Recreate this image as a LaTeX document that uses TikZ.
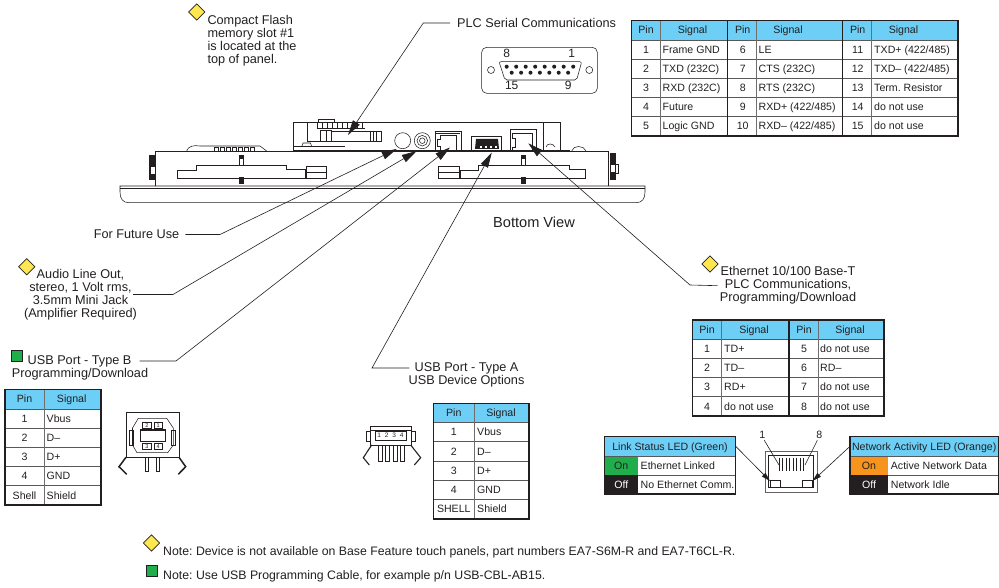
\documentclass[tikz,border=0pt]{standalone}
\usepackage{fontspec}
\setmainfont{Liberation Sans}
\usetikzlibrary{arrows.meta}
\usetikzlibrary{shapes.geometric}
\definecolor{inkc}{HTML}{231F20}
\definecolor{hdrc}{HTML}{6DCFF6}
\definecolor{yellowc}{HTML}{FFE84F}
\definecolor{greenc}{HTML}{1FAE4B}
\definecolor{orangec}{HTML}{F7941D}
\newcommand{\rsfs}{(422/485)}
\AtBeginDocument{\frenchspacing}
\tikzset{
  every node/.style={text=inkc, inner sep=0pt},
  lbl/.style={font=\fontsize{12.7}{13}\selectfont, align=center},
  tbl/.style={font=\fontsize{10.6}{12}\selectfont, text height=7.4pt, text depth=0pt},
  pincell/.style={tbl},
  sigcell/.style={tbl, anchor=west},
  hdrline/.style={draw=inkc, line width=1.3pt},
  rowline/.style={draw=inkc!75, line width=0.8pt},
  colline/.style={draw=inkc!65, line width=1pt},
  ptr/.style={draw=inkc, line width=0.6pt},
  ptrarrow/.style={ptr, -{Triangle[length=15pt,width=8pt]}},
  smallarrow/.style={ptr, -{Triangle[length=9pt,width=5pt]}},
  part/.style={draw=inkc, line width=0.55pt},
  heavy/.style={draw=inkc, line width=1.5pt},
  notediamond/.style={diamond, draw=inkc, fill=yellowc, line width=0.7pt, minimum width=16.5pt, minimum height=16.5pt},
  notesquare/.style={rectangle, draw=inkc, fill=greenc, line width=0.5pt, minimum size=11pt}
}
\begin{document}
\begin{tikzpicture}[x=1pt,y=-1pt]
\useasboundingbox (0,0) rectangle (999,588);

% panel seen from below
\draw[part] (120,186) -- (645,186) -- (645,192) .. controls (645,199) and (642,202.7) .. (636,202.7) -- (129,202.7) .. controls (123,202.7) and (120,199) .. (120,192) -- cycle;
\draw[part] (120,188) -- (645,188);
\draw[part] (155,186) -- (155,151) -- (608,151) -- (608,186);
\draw[heavy] (293,151) -- (570,151);
\draw[part] (293,151) -- (293,122.3) -- (560,122.3) -- (560,151);
\draw[part] (543,122.3) -- (543,151);
% bumps, plates and screws
\draw[part] (186.7,151) .. controls (188,146) and (194,145) .. (200,146) -- (260,146) -- (266.7,151);
\foreach \x in {214,220,...,250} \draw[part] (\x,147.5) rectangle ++(4,3.5);
\draw[part] (571.7,151) .. controls (573,145) and (584,145) .. (586,151);
\draw[part] (177,178) -- (177,170) -- (196.7,170) -- (196.7,165) -- (286.7,165) -- (286.7,169.3) -- (305,169.3) -- (305,178) -- cycle;
\draw[part] (306.7,166) rectangle (326.7,178.7); \draw[part] (306.7,172.3) -- (326.7,172.3);
\draw[part] (460,178) -- (460,170) -- (478,170) -- (478,165) -- (569,165) -- (569,169.3) -- (585,169.3) -- (585,178) -- cycle;
\draw[part] (438.3,166) rectangle (459.3,178.7); \draw[part] (438.3,172.3) -- (459.3,172.3);
\foreach \x in {241.7,523.3} {
  \fill[inkc] (\x-2.5,155) rectangle (\x+2.5,158);
  \draw[part] (\x-2,158) rectangle (\x+2,165);
  \fill[inkc] (\x-2.5,177) rectangle (\x+2.5,184);
}
\fill[inkc] (149,155) rectangle (155,180); \fill[white] (150.5,167) rectangle (155,174);
\draw[part] (149,166) rectangle (155,175);
\fill[inkc] (610,153) rectangle (616,180); \fill[white] (610,165) rectangle (614.5,172);
\draw[part] (610,164) rectangle (618,173);
% compact flash slot
\draw[part] (307.7,122.3) -- (307.7,141) -- (381,141) -- (381,131.7) -- (331.7,131.7);
\draw[part] (318.3,122.3) -- (318.3,119.3) -- (334.3,119.3) -- (334.3,122.3);
\draw[part] (316.7,128) -- (365,128);
\foreach \x in {317,322,...,362} \draw[part] (\x,123) -- (\x,128);
\draw[part] (320,130) rectangle (331.7,141); \draw[part] (326,130) -- (326,141);
\foreach \x in {370,373,376} \draw[part] (\x,131.7) -- (\x,141);
\draw[part] (301.7,146.7) -- (303,143) -- (310.5,143) -- (311.7,146.7);
\draw[part] (293,146.7) -- (345,146.7);
% round openings
\draw[part] (402.7,140.7) circle (8);
\draw[part] (422.3,140.7) circle (8);
\draw[part] (422.3,140.7) circle (5.3);
\draw[part] (422.3,140.7) circle (2.8);
% ports
\draw[part] (435,131.7) rectangle (461,151);
\draw[part] (436,133) -- (460,133);
\draw[part] (440,135) -- (456,135) -- (456,150) -- (440,150) -- (440,146) -- (437.5,146) -- (437.5,139) -- (440,139) -- cycle;
\draw[part] (471.7,136.7) rectangle (501.7,151);
\fill[inkc] (476,139) -- (498,139) -- (499,149) -- (475,149) -- cycle;
\foreach \x in {480,485,490,495} \fill[white] (\x,146) rectangle ++(1.5,2);
\draw[part] (510,129) rectangle (536,151);
\draw[part] (512.5,133) -- (532,133) -- (532,150);
\draw[part] (512.5,133) -- (512.5,138) -- (515,138) -- (515,147) -- (512.5,147) -- (512.5,150);
\draw[part] (546,147) .. controls (547,143) and (553,143) .. (555,147);

\node[font=\fontsize{14.6}{16}\selectfont] (bottomview) at (534,222) {Bottom View};

% callouts
\node[lbl, align=left, anchor=north west] (lblflash) at (207.3,15.5) {Compact Flash\\memory slot \#1\\is located at the\\top of panel.};
\node[notediamond] (dflash) at (196.7,12) {};
\node[lbl, anchor=west] (lblplc) at (457,23) {PLC Serial Communications};
\coordinate (plcelbow) at (423.3,23); \coordinate (plctip) at (348,135);
\draw[ptrarrow] ([xshift=-7pt]lblplc.west) -- (plcelbow) -- (plctip);
\node[lbl] (lblfuture) at (136.5,234.5) {For Future Use};
\coordinate (futureelbow) at (220,234.5); \coordinate (futuretip) at (396.7,149);
\draw[ptrarrow] ([xshift=6pt]lblfuture.east) -- (futureelbow) -- (futuretip);
\node[lbl] (lblaudio) at (80.5,294.5) {Audio Line Out,\\stereo, 1 Volt rms,\\3.5mm Mini Jack\\(Amplifier Required)};
\node[notediamond] (daudio) at (26.7,266.7) {};
\coordinate (audioelbow) at (173,294.5); \coordinate (audiotip) at (416.7,151);
\draw[ptrarrow] ([xshift=-4pt]lblaudio.east) -- (audioelbow) -- (audiotip);
\node[lbl] (lblusbb) at (79.5,361) {USB Port - Type B};
\node[lbl] (lblusbbsub) at (80,374.5) {Programming/Download};
\node[notesquare] (susbb) at (16.3,355.5) {};
\coordinate (usbbelbow) at (176,361); \coordinate (usbbtip) at (450,147.5);
\draw[ptrarrow] ([xshift=8pt]lblusbb.east) -- (usbbelbow) -- (usbbtip);
\node[lbl] (lblusba) at (466.5,368) {USB Port - Type A};
\node[lbl] (lblusbasub) at (466.5,381) {USB Device Options};
\coordinate (usbaelbow) at (372,368); \coordinate (usbatip) at (491.7,152.7);
\draw[ptrarrow] ([xshift=-5pt]lblusba.west) -- (usbaelbow) -- (usbatip);
\node[lbl] (lbleth) at (788,285.7) {Ethernet 10/100 Base-T\\PLC Communications,\\Programming/Download};
\node[notediamond] (deth) at (710,264) {};
\coordinate (ethelbow) at (690,285); \coordinate (ethtip) at (528.3,143.3);
\draw[ptrarrow] ([xshift=-2pt]lbleth.west) -- (ethelbow) -- (ethtip);

% serial connector
\draw[part, rounded corners=5pt] (481.7,47.3) rectangle (597.3,93.3);
\draw[part, rounded corners=2pt] (499,61.7) -- (581.7,61.7) -- (576.7,80) -- (505,80) -- cycle;
\draw[part] (491,70) circle (3.5);
\draw[part] (589.3,70) circle (3.5);
\foreach \i in {0,...,7} \fill[inkc] (506.7+\i*9.5,66.7) circle (2);
\foreach \i in {0,...,6} \fill[inkc] (511.7+\i*9.4,72.7) circle (2);
\node[font=\fontsize{12}{13}\selectfont] (db8) at (506.7,53) {8};
\node[font=\fontsize{12}{13}\selectfont] (db1) at (571.7,53) {1};
\node[font=\fontsize{12}{13}\selectfont] (db15) at (511.7,85.5) {15};
\node[font=\fontsize{12}{13}\selectfont] (db9) at (568.3,85.5) {9};

% serial pinout
\fill[hdrc] (631.5,20.7) rectangle (958,40);
\foreach \y in {40,59.3,78.3,97.7,116.7} \draw[rowline] (631.5,\y) -- (958,\y);
\foreach \x in {660,756.7,871.7} \draw[colline] (\x,20.7) -- (\x,136);
\foreach \x in {727.7,842.7} \draw[hdrline] (\x,20.7) -- (\x,136);
\draw[hdrline] (631.5,20.7) rectangle (958,136);
\foreach \x/\z in {646/a,742.7/b,857.7/c} {
  \node[pincell] (hp\z) at (\x,30.3) {Pin};
}
\node[pincell] (hsa) at (692.5,30.3) {Signal};
\node[pincell] (hsb) at (788,30.3) {Signal};
\node[pincell] (hsc) at (903.5,30.3) {Signal};
\foreach \y/\pa/\sa/\pb/\sb/\pc/\sc in {
  49.7/1/Frame GND/6/LE/11/TXD+ \rsfs,
  68.8/2/TXD (232C)/7/CTS (232C)/12/TXD– \rsfs,
  88/3/RXD (232C)/8/RTS (232C)/13/Term. Resistor,
  107.2/4/Future/9/RXD+ \rsfs/14/do not use,
  126.3/5/Logic GND/10/RXD– \rsfs/15/do not use} {
  \node[pincell] (sp\pa) at (646,\y) {\pa};
  \node[sigcell] (ss\pa) at (662.5,\y) {\sa};
  \node[pincell] (sp\pb) at (742.7,\y) {\pb};
  \node[sigcell] (ss\pb) at (758.5,\y) {\sb};
  \node[pincell] (sp\pc) at (857.7,\y) {\pc};
  \node[sigcell] (ss\pc) at (874,\y) {\sc};
}

% ethernet pinout
\fill[hdrc] (692.3,320) rectangle (884,339);
\foreach \y in {339,358.3,377.7,396.7} \draw[rowline] (692.3,\y) -- (884,\y);
\foreach \x in {721.7,818.3} \draw[colline] (\x,320) -- (\x,416);
\draw[hdrline] (789,320) -- (789,416);
\draw[hdrline] (692.3,320) rectangle (884,416);
\node[pincell] (hep1) at (707,329.5) {Pin};
\node[pincell] (hes1) at (754,329.5) {Signal};
\node[pincell] (hep2) at (804,329.5) {Pin};
\node[pincell] (hes2) at (850,329.5) {Signal};
\foreach \y/\pa/\sa/\pb/\sb in {
  348.7/1/TD+/5/do not use,
  368/2/TD–/6/RD–,
  387.2/3/RD+/7/do not use,
  406.3/4/do not use/8/do not use} {
  \node[pincell] (ep\pa) at (707,\y) {\pa};
  \node[sigcell] (es\pa) at (724,\y) {\sa};
  \node[pincell] (ep\pb) at (804,\y) {\pb};
  \node[sigcell] (es\pb) at (820,\y) {\sb};
}

% usb b pinout
\fill[hdrc] (5,389.3) rectangle (101,409);
\foreach \y in {409,428.3,447.3,466.7,485.7} \draw[rowline] (5,\y) -- (101,\y);
\draw[colline] (44,389.3) -- (44,505);
\draw[hdrline] (5,389.3) rectangle (101,505);
\node[pincell] (hbp) at (24.5,399) {Pin};
\node[pincell] (hbs) at (71.7,399) {Signal};
\foreach \y/\p/\s in {418.7/1/Vbus,437.8/2/D–,457/3/D+,476.2/4/GND,495.3/Shell/Shield} {
  \node[pincell] (bp\p) at (24.5,\y) {\p};
  \node[sigcell] (bs\p) at (46.5,\y) {\s};
}

% usb a pinout
\fill[hdrc] (433.3,403.3) rectangle (529,422.7);
\foreach \y in {422.7,441.7,461,480,499} \draw[rowline] (433.3,\y) -- (529,\y);
\draw[colline] (474.3,403.3) -- (474.3,519);
\draw[hdrline] (433.3,403.3) rectangle (529,519);
\node[pincell] (hap) at (453.8,413) {Pin};
\node[pincell] (has) at (501,413) {Signal};
\foreach \y/\p/\s in {432.2/1/Vbus,451.3/2/D–,470.5/3/D+,489.5/4/GND,509/SHELL/Shield} {
  \node[pincell] (ap\p) at (453.8,\y) {\p};
  \node[sigcell] (as\p) at (477,\y) {\s};
}

% led tables
\fill[hdrc] (604.3,436.7) rectangle (735.7,456);
\fill[greenc] (604.3,456) rectangle (638.3,475);
\fill[inkc] (604.3,475) rectangle (638.3,494);
\draw[rowline] (604.3,456) -- (735.7,456); \draw[rowline] (638.3,475) -- (735.7,475);
\draw[hdrline] (604.3,436.7) rectangle (735.7,494);
\node[tbl] (linkhdr) at (670,446.3) {Link Status LED (Green)};
\node[tbl] (linkon) at (621.3,465.5) {On};
\node[tbl, text=white] (linkoff) at (621.3,484.5) {Off};
\node[sigcell] (linkons) at (640.5,465.5) {Ethernet Linked};
\node[sigcell] (linkoffs) at (640.5,484.5) {No Ethernet Comm.};
\fill[hdrc] (850,436.7) rectangle (998.3,456);
\fill[orangec] (850,456) rectangle (888.3,475);
\fill[inkc] (850,475) rectangle (888.3,494);
\draw[rowline] (850,456) -- (998.3,456); \draw[rowline] (888.3,475) -- (998.3,475);
\draw[hdrline] (850,436.7) rectangle (998.3,494);
\node[tbl] (nethdr) at (924.2,446.3) {Network Activity LED (Orange)};
\node[tbl] (neton) at (869,465.5) {On};
\node[tbl, text=white] (netoff) at (869,484.5) {Off};
\node[sigcell] (netons) at (890.7,465.5) {Active Network Data};
\node[sigcell] (netoffs) at (890.7,484.5) {Network Idle};

% rj45 jack
\draw[part, line width=1pt, draw=inkc!70] (765,451.7) rectangle (817.3,492.3);
\draw[part, line width=1pt] (768.3,455.7) -- (813,455.7) -- (813,487.7) -- (768.3,487.7) -- cycle;
\draw[part] (770,480) rectangle (780,487.7);
\draw[part] (802.7,480) rectangle (812.7,487.7);
\foreach \x in {779.3,782.8,...,804} \draw[part, line width=1pt] (\x,457.7) -- (\x,470.7);
\node[tbl] (pinone) at (762.3,434.3) {1};
\node[tbl] (pineight) at (819.3,434.3) {8};
\coordinate (onetip) at (779,465); \coordinate (eighttip) at (805,465);
\coordinate (linkled) at (770,481); \coordinate (netled) at (812.5,481);
\draw[ptr] (pinone) ++(2,6) -- (onetip);
\draw[ptr] (pineight) ++(-2,6) -- (eighttip);
\draw[smallarrow] (linkhdr.east -| 735.7,447) -- (linkled);
\draw[smallarrow] (nethdr.west -| 850,447) -- (netled);

% usb b socket
\draw[part] (126,412.7) rectangle (179,457.3);
\draw[part] (138.3,418.3) -- (166.7,418.3) -- (173.3,428) -- (173.3,445) -- (167.7,452.7) -- (137,452.7) -- (132.5,445) -- (132.5,428) -- cycle;
\draw[heavy] (140.7,430) rectangle (165.7,441.7);
\draw[part] (129.3,430) rectangle (133.3,445);
\draw[part] (171,430) rectangle (175,445);
\foreach \x/\y/\n in {142.7/422.7/2,154/422.7/1,142.7/443.3/3,154/443.3/4} {
  \draw[part] (\x,\y) rectangle ++(8.2,6);
  \node[font=\fontsize{5.5}{6}\selectfont] (usbb\n) at (\x+4.1,\y+3) {\n};
}
\foreach \x in {145,156} \draw[part] (\x,457.3) -- (\x,471.7) -- (\x+3.7,471.7) -- (\x+3.7,457.3);
\draw[heavy] (126,457.3) -- (119,466.7) -- (126.7,474.3);
\draw[heavy] (179,457.3) -- (185.7,466.7) -- (178.3,474.3);

% usb a socket
\draw[part] (370.7,426.7) rectangle (411.7,445);
\draw[part] (370.7,430) -- (411.7,430);
\draw[part] (366.7,431) rectangle (370.7,441.7);
\draw[part] (411.7,431) rectangle (415.7,441.7);
\draw[part] (375,431) rectangle (406.7,440);
\foreach \x/\n in {379.3/1,386.7/2,394.3/3,401.7/4} {
  \node[font=\fontsize{6.5}{7}\selectfont] (usba\n) at (\x,435.5) {\n};
  \draw[part] (\x-1,445) -- (\x-1,461) -- (\x+2.5,461) -- (\x+2.5,445);
}
\draw[heavy, line width=1.1pt] (371.7,445) -- (363.3,457.7) -- (369.3,465);
\draw[heavy, line width=1.1pt] (410.7,445) -- (420.7,457.7) -- (414.3,465);

% notes
\node[notediamond] (dnote) at (151.5,543) {};
\node[font=\fontsize{12.3}{13}\selectfont, anchor=west] (notedev) at (163,552) {Note: Device is not available on Base Feature touch panels, part numbers EA7-S6M-R and EA7-T6CL-R.};
\node[notesquare] (snote) at (152,570.5) {};
\node[font=\fontsize{12.3}{13}\selectfont, anchor=west] (noteusb) at (163,576) {Note: Use USB Programming Cable, for example p/n USB-CBL-AB15.};
\end{tikzpicture}
\end{document}
